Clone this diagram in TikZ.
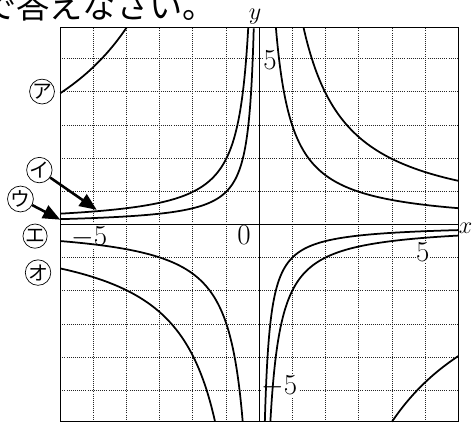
\documentclass[tikz,border=0pt]{standalone}
\usepackage{fontspec}
\newfontfamily\jpfont{Noto Sans CJK JP}
\usetikzlibrary{arrows.meta}
\tikzset{
  gridline/.style={densely dotted,line width=0.8pt,black!85},
  axisline/.style={line width=0.8pt},
  curve/.style={line width=1.5pt},
  numlbl/.style={fill=white,inner sep=0.5pt,font=\fontsize{24}{24}\selectfont},
  axlbl/.style={inner sep=0pt,font=\fontsize{21}{21}\selectfont},
  kana/.style={circle,draw,line width=0.6pt,minimum size=7.3mm,inner sep=0pt,
    font=\jpfont\fontsize{17}{17}\selectfont},
  ptr/.style={-{Triangle[length=5.2mm,width=4.2mm]},line width=2.2pt},
}

\begin{document}
\begin{tikzpicture}[x=1cm,y=0.9904cm]
  \useasboundingbox (-7.817,-6.100) rectangle (6.412,6.837);
  % end of the question text, cut at the top
  \node[anchor=base west,inner sep=0pt,font=\jpfont\fontsize{28.5}{29}\selectfont]
    (instr) at (-8.33,6.28) {で答えなさい。};
  % grid and axes
  \draw[gridline] (-6,-6) grid (6,6);
  \draw[axisline] (-6,0) -- (6,0);
  \draw[axisline] (0,-6) -- (0,6);
  \draw[line width=1pt] (-6,-6) rectangle (6,6);
  \node[axlbl] (xl) at (6.22,-0.10) {$x$};
  \node[axlbl] (yl) at (-0.13,6.33) {$y$};
  \node[numlbl] (n0) at (-0.46,-0.32) {$0$};
  \node[numlbl] (nxm) at (-5.13,-0.38) {$-5$};
  \node[numlbl] (nxp) at (4.93,-0.83) {$5$};
  \node[numlbl] (nyp) at (0.32,5) {$5$};
  \node[numlbl] (nym) at (0.6,-4.93) {$-5$};
  % the five curves
  \draw[curve] plot[domain=-6:-4,samples=60] (\x,{-24/\x});
  \draw[curve] plot[domain=4:6,samples=60] (\x,{-24/\x});
  \draw[curve] plot[domain=-6:-0.3333,samples=300] (\x,{-2/\x});
  \draw[curve] plot[domain=0.3333:6,samples=300] (\x,{-2/\x});
  \draw[curve] plot[domain=-6:-0.16667,samples=400] (\x,{-1/\x});
  \draw[curve] plot[domain=0.16667:6,samples=400] (\x,{-1/\x});
  \draw[curve] plot[domain=-6:-0.5,samples=300] (\x,{3/\x});
  \draw[curve] plot[domain=0.5:6,samples=300] (\x,{3/\x});
  \draw[curve] plot[domain=-6:-1.3333,samples=200] (\x,{8/\x});
  \draw[curve] plot[domain=1.3333:6,samples=200] (\x,{8/\x});
  % labels on the left
  \node[kana] (lA) at (-6.55,4.05) {ア};
  \node[kana] (lI) at (-6.63,1.66) {イ};
  \node[kana] (lU) at (-7.20,0.78) {ウ};
  \node[kana] (lE) at (-6.76,-0.35) {エ};
  \node[kana] (lO) at (-6.67,-1.46) {オ};
  \coordinate (tipI) at (-4.90,0.45);
  \coordinate (tipU) at (-6.00,0.15);
  \draw[ptr] (lI) -- (tipI);
  \draw[ptr] (lU) -- (tipU);
\end{tikzpicture}
\end{document}
